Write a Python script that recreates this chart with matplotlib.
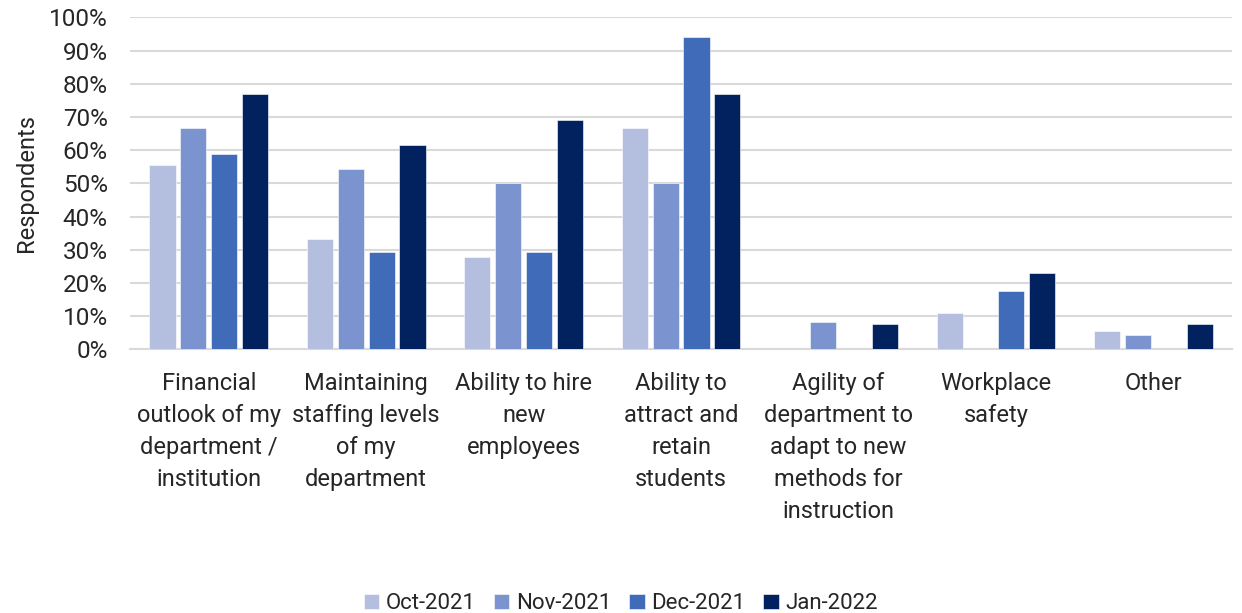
import numpy as np
import matplotlib.pyplot as plt
from matplotlib.ticker import PercentFormatter

plt.rcParams['font.family'] = ['Roboto', 'DejaVu Sans']

categories = ['Financial\noutlook of my\ndepartment /\ninstitution',
              'Maintaining\nstaffing levels\nof my\ndepartment',
              'Ability to hire\nnew\nemployees',
              'Ability to\nattract and\nretain\nstudents',
              'Agility of\ndepartment to\nadapt to new\nmethods for\ninstruction',
              'Workplace\nsafety',
              'Other']
series = ['Oct-2021', 'Nov-2021', 'Dec-2021', 'Jan-2022']
oct21 = [55.6, 33.3, 27.8, 66.7, 0.0, 11.1, 5.6]
nov21 = [66.7, 54.2, 50.0, 50.0, 8.3, 0.0, 4.2]
dec21 = [58.8, 29.4, 29.4, 94.1, 0.0, 17.6, 0.0]
jan22 = [76.9, 61.5, 69.2, 76.9, 7.7, 23.1, 7.7]
colors = ['#B4BFDF', '#7B93CE', '#406BB8', '#02215F']

fig = plt.figure(figsize=(12.42, 6.13), dpi=100)
ax = fig.add_axes([0.1047, 0.430, 0.8873, 0.5415])

x = np.arange(len(categories))
step = 0.196
width = 0.166
for i, (vals, name) in enumerate(zip([oct21, nov21, dec21, jan22], series)):
    ax.bar(x + (i - 1.5) * step, vals, width, color=colors[i], label=name,
           edgecolor='white', linewidth=0.4, zorder=3)

ax.set_xlim(-0.5, len(categories) - 0.5)
ax.set_ylim(0, 100)
ax.set_yticks(np.arange(0, 101, 10))
ax.yaxis.set_major_formatter(PercentFormatter(decimals=0))
ax.grid(axis='y', color='#D9D9D9', linewidth=1.5, zorder=0)
for s in ['top', 'right', 'left']:
    ax.spines[s].set_visible(False)
ax.spines['bottom'].set_color('#D9D9D9')
ax.spines['bottom'].set_linewidth(1.5)
ax.tick_params(length=0, colors='#262626')
ax.tick_params(axis='y', pad=16, labelsize=17.5)
ax.set_xticks(x)
ax.set_xticklabels(categories, fontsize=17, linespacing=1.5, va='top')
ax.tick_params(axis='x', pad=16)
ax.set_ylabel('Respondents', fontsize=17, color='#262626', labelpad=8)

fig.legend(loc='lower center', ncol=4, bbox_to_anchor=(0.5, -0.035), frameon=False,
           fontsize=16, handlelength=0.7, handleheight=0.7, handletextpad=0.3,
           columnspacing=0.8, labelcolor='#262626')

fig.savefig('out.png', dpi=100)
